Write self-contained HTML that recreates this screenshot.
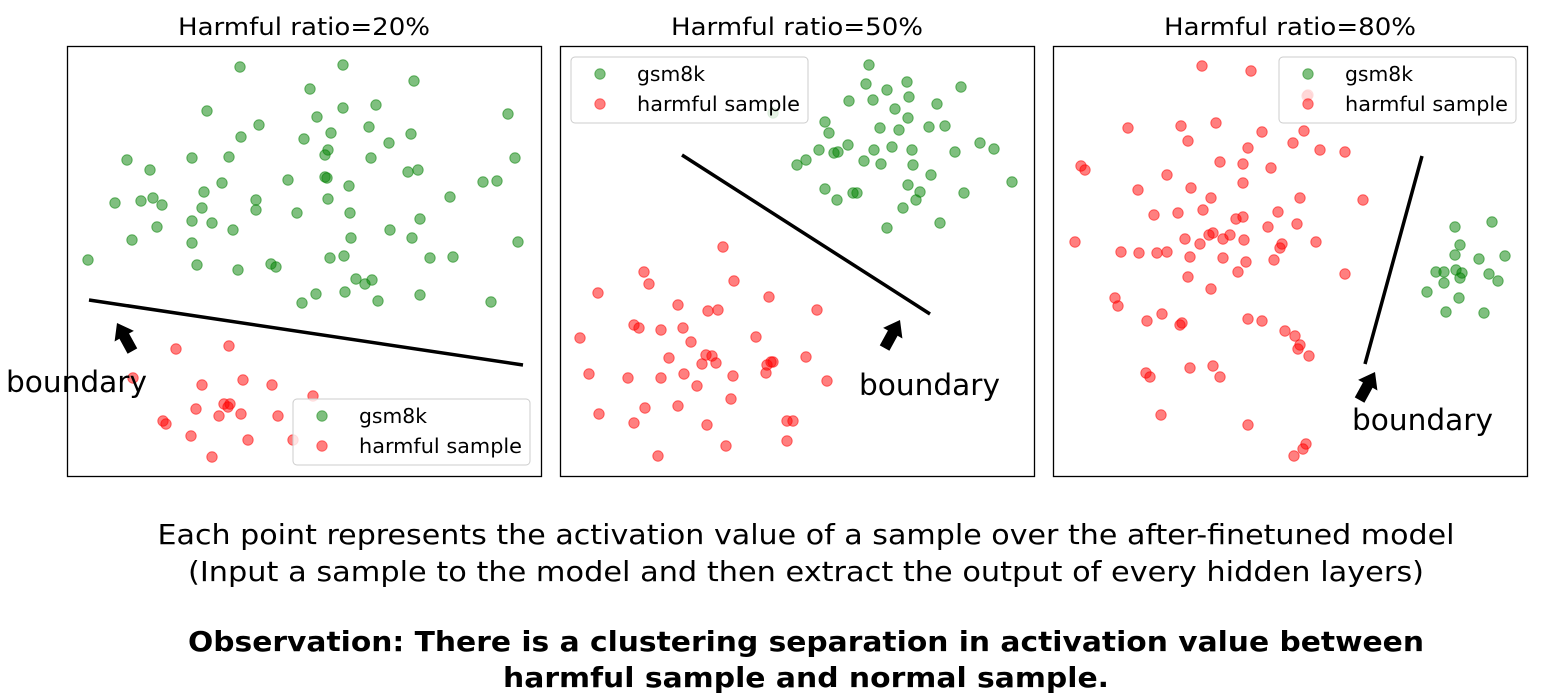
<!DOCTYPE html>
<html><head><meta charset="utf-8">
<style>
body{margin:0;background:#fff;width:1546px;height:696px;overflow:hidden}
svg{display:block}
text{font-family:"DejaVu Sans","Liberation Sans",sans-serif}
</style></head>
<body>
<svg id="fig" width="1546" height="696"></svg>
<script>
// data units: x along panel width (0..474), y from panel top (0..430)
const panelTitles = ["Harmful ratio=20%","Harmful ratio=50%","Harmful ratio=80%"];
const seriesNames = ["gsm8k","harmful sample"];
const p1Green = [[173,21],[276,19],[347,35],[243,43],[140,65],[276,62],[309,59],[250,71],[192,79],[441,68],[174,91],[264,87],[302,81],[237,93],[344,88],[60,114],[162,111],[125,112],[83,124],[261,104],[258,109],[304,112],[322,97],[448,112],[221,134],[258,131],[260,132],[341,126],[351,124],[416,136],[430,135],[48,157],[74,155],[86,152],[137,146],[155,137],[189,154],[282,140],[383,151],[95,159],[135,162],[90,181],[125,175],[145,177],[166,184],[189,164],[230,167],[261,153],[283,167],[353,173],[65,194],[125,197],[323,184],[345,192],[451,196],[284,192],[21,214],[130,219],[171,224],[204,218],[209,221],[263,212],[277,210],[289,233],[305,234],[298,238],[363,212],[386,211],[249,248],[278,246],[311,255],[353,249],[424,256],[235,257]];
const p1Red = [[109,303],[162,300],[66,332],[135,339],[176,334],[205,339],[246,350],[129,363],[157,358],[163,358],[161,361],[96,375],[99,378],[124,390],[152,370],[174,368],[211,370],[181,394],[145,411],[226,394]];
const p2Green = [[309,19],[347,36],[306,38],[327,44],[289,55],[313,54],[349,51],[335,63],[377,58],[401,41],[265,76],[320,82],[339,84],[348,72],[369,81],[385,80],[259,104],[269,87],[288,99],[314,104],[332,101],[352,104],[395,106],[420,97],[434,103],[246,114],[237,119],[278,106],[274,107],[304,115],[321,118],[353,119],[371,129],[452,136],[265,143],[293,147],[297,147],[348,139],[360,146],[404,147],[277,154],[343,162],[356,154],[327,182],[380,177],[213,67]];
const p2Red = [[163,201],[84,226],[89,238],[174,235],[38,247],[118,259],[148,265],[209,251],[158,264],[257,264],[74,279],[79,282],[101,284],[123,282],[196,291],[20,292],[109,312],[131,296],[146,309],[152,310],[142,318],[156,317],[211,316],[207,319],[213,316],[246,311],[29,328],[68,332],[101,332],[124,328],[173,330],[206,327],[267,335],[137,340],[171,353],[39,368],[85,362],[118,360],[74,377],[147,379],[227,375],[233,375],[227,395],[166,400],[98,410]];
const p3Green = [[439,176],[402,181],[407,199],[426,213],[452,210],[402,209],[383,226],[391,226],[403,224],[409,227],[407,232],[436,228],[445,235],[391,237],[374,246],[406,252],[393,266],[431,267]];
const p3Red = [[149,20],[198,25],[254,50],[75,82],[128,80],[163,77],[209,86],[251,85],[135,95],[195,102],[240,97],[267,104],[292,106],[28,120],[32,124],[114,129],[167,116],[190,118],[218,122],[85,144],[138,142],[190,137],[158,152],[247,152],[310,154],[125,167],[101,169],[150,164],[183,173],[190,171],[225,166],[156,189],[160,187],[177,189],[215,181],[244,178],[22,196],[68,206],[86,207],[114,206],[132,193],[147,198],[170,193],[191,194],[229,198],[227,202],[104,207],[137,211],[193,216],[170,212],[221,214],[263,196],[185,226],[135,231],[158,243],[292,228],[62,252],[65,260],[109,268],[94,275],[129,277],[127,279],[195,273],[209,275],[232,285],[242,290],[247,299],[245,303],[256,310],[93,327],[97,331],[137,322],[160,320],[167,331],[108,369],[195,379],[253,398],[250,403],[241,410],[255,49]];
const boundaries = [[[22,254],[456,319]],[[122,109],[370,268]],[[369,110],[312,318]]];
const panels = [
 {left:67,  green:p1Green, red:p1Red, legend:[226,353], arrowTip:[50,277], arrowDir:-1, label:[6,392]},
 {left:560, green:p2Green, red:p2Red, legend:[11,11],  arrowTip:[340,274], arrowDir:1, label:[859,395]},
 {left:1053,green:p3Green, red:p3Red, legend:[226,11], arrowTip:[322,326], arrowDir:1, label:[1352,430]}
];
const NS="http://www.w3.org/2000/svg";
const svg=document.getElementById('fig');
const TOP=46,W=474,H=430;
function mk(t,a,p){const e=document.createElementNS(NS,t);for(const k in a)e.setAttribute(k,a[k]);(p||svg).appendChild(e);return e;}
panels.forEach((p,i)=>{
  const xS=v=>p.left+v*(W/474), yS=v=>TOP+v*(H/430);
  const g=mk('g',{});
  
  
  const t=mk('text',{x:p.left+W/2,y:35,'text-anchor':'middle','font-size':24,textLength:252,lengthAdjust:'spacingAndGlyphs'},g);t.textContent=panelTitles[i];
  
  
  const fr=mk('rect',{x:p.left+0.5,y:TOP+0.5,width:W,height:H,fill:'#fff',stroke:'#000','stroke-width':1.3},g);
  
  
  p.green.forEach(d=>{const c=mk('circle',{cx:xS(d[0]),cy:yS(d[1]),r:5.2,fill:'rgba(0,128,0,0.5)',stroke:'rgba(0,128,0,0.55)','stroke-width':1},g);
    
    });
  p.red.forEach(d=>{const c=mk('circle',{cx:xS(d[0]),cy:yS(d[1]),r:5.2,fill:'rgba(255,0,0,0.5)',stroke:'rgba(255,0,0,0.55)','stroke-width':1},g);
    
    });
  const b=boundaries[i];
  const ln=mk('line',{x1:xS(b[0][0]),y1:yS(b[0][1]),x2:xS(b[1][0]),y2:yS(b[1][1]),stroke:'#000','stroke-width':3.5},g);
  
  
  const tx=xS(p.arrowTip[0]),ty=yS(p.arrowTip[1]);
  const dx=p.arrowDir*-0.55, dy=1; const L=32;
  const n=Math.hypot(dx,dy); const ux=dx/n, uy=dy/n, px=-uy, py=ux;
  const pts=[[tx,ty],[tx+ux*15+px*11,ty+uy*15+py*11],[tx+ux*15+px*5.5,ty+uy*15+py*5.5],[tx+ux*L+px*5.5,ty+uy*L+py*5.5],[tx+ux*L-px*5.5,ty+uy*L-py*5.5],[tx+ux*15-px*5.5,ty+uy*15-py*5.5],[tx+ux*15-px*11,ty+uy*15-py*11]];
  const ar=mk('polygon',{points:pts.map(q=>q.join(',')).join(' '),fill:'#000'},g);
  
  
  const lb=mk('text',{x:p.label[0],y:p.label[1],'font-size':29,textLength:141,lengthAdjust:'spacingAndGlyphs'},svg);lb.textContent='boundary';
  
  
  const lx=p.left+p.legend[0], ly=TOP+p.legend[1];
  const lg=mk('g',{},g);
  
  
  mk('rect',{x:lx,y:ly,width:237,height:66,rx:4,fill:'rgba(255,255,255,0.8)',stroke:'#ccc'},lg);
  [['rgba(0,128,0,0.5)',seriesNames[0],68],['rgba(255,0,0,0.5)',seriesNames[1],163]].forEach((s,k)=>{
    const cy=ly+17+k*30;
    mk('circle',{cx:lx+29,cy:cy,r:5.2,fill:s[0],stroke:s[0]},lg);
    const tt=mk('text',{x:lx+66,y:cy+7,'font-size':20,textLength:s[2],lengthAdjust:'spacingAndGlyphs'},lg);tt.textContent=s[1];
    
    
  });
});
const cap=[["Each point represents the activation value of a sample over the after-finetuned model",544,'normal',1297],["(Input a sample to the model and then extract the output of every hidden layers)",581,'normal',1236],["Observation: There is a clustering separation in activation value between",651,'bold',1236],["harmful sample and normal sample.",687,'bold',606]];
cap.forEach(c=>{const t=mk('text',{x:806,y:c[1],'text-anchor':'middle','font-size':28,'font-weight':c[2],textLength:c[3],lengthAdjust:'spacingAndGlyphs'});t.textContent=c[0];
  
  });
</script>
</body></html>
